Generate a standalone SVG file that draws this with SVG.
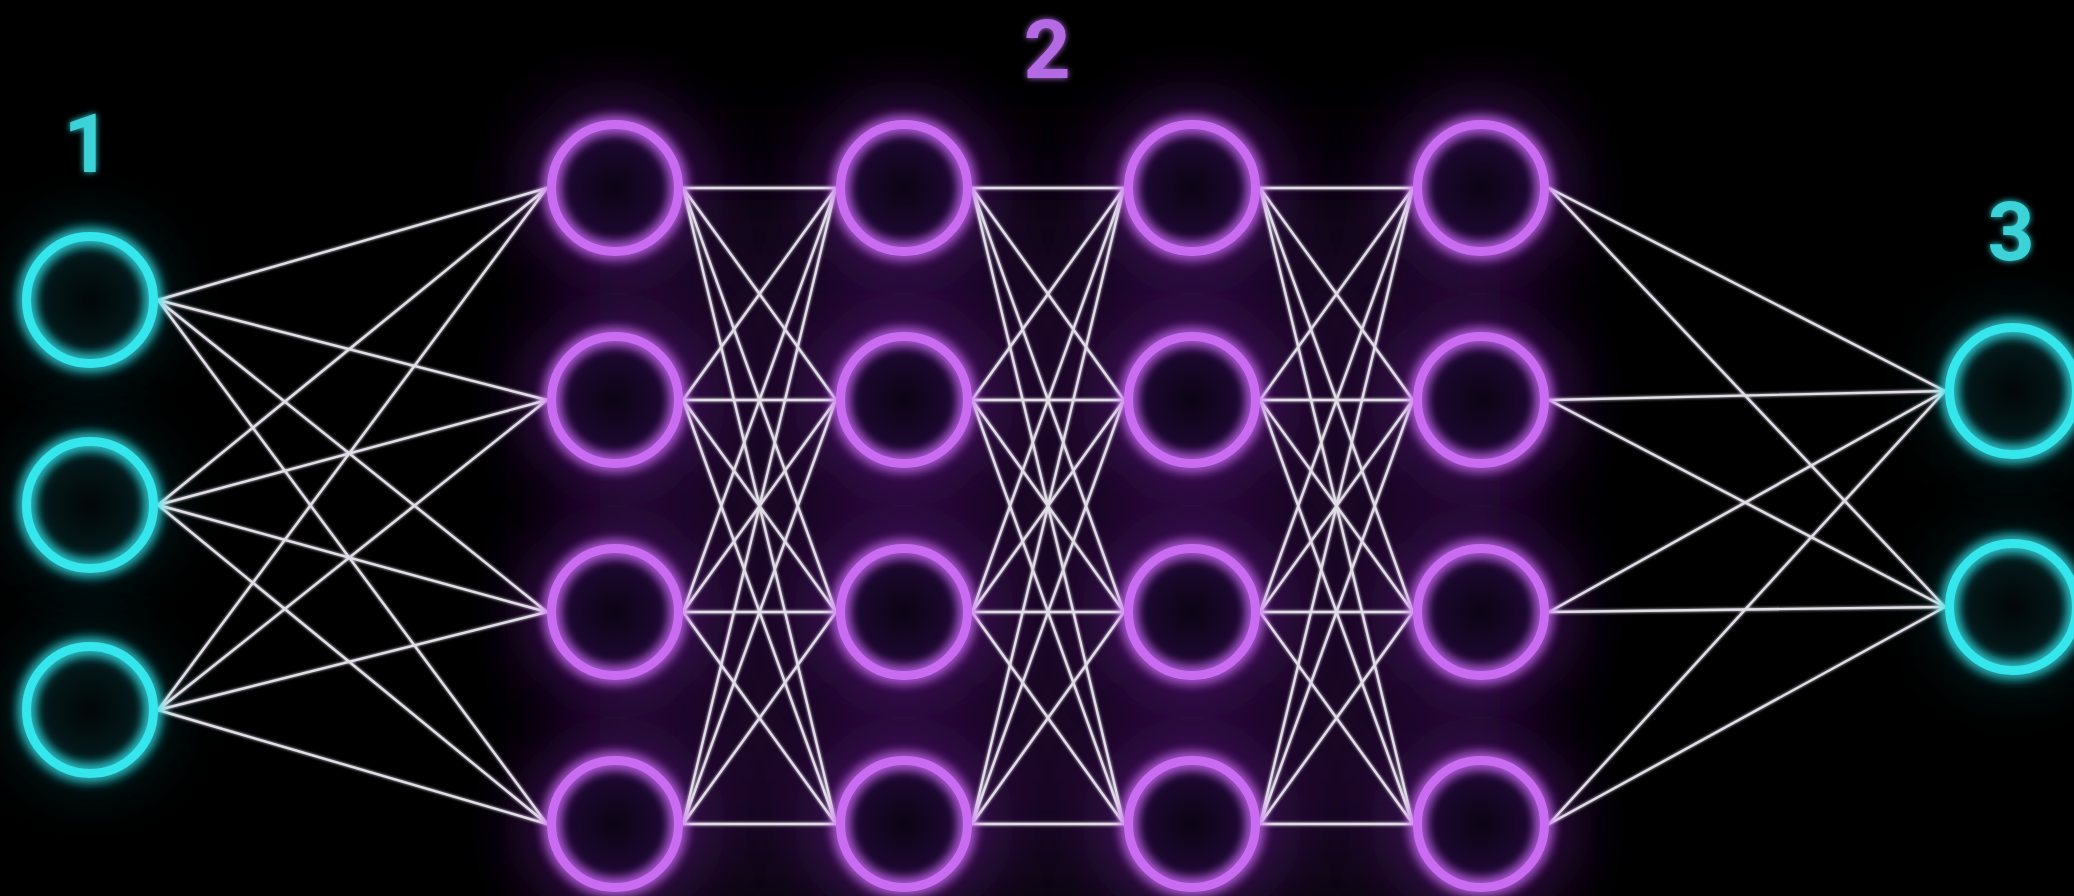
<svg xmlns="http://www.w3.org/2000/svg" width="2074" height="896" viewBox="0 0 2074 896">
<defs>
<style>
.ln{stroke:#e2dee8;stroke-width:2.4;stroke-linecap:round;fill:none}
.ringC{fill:none;stroke:#34e6ec;stroke-width:9;filter:url(#glowC)}
.ringP{fill:none;stroke:#c96cf2;stroke-width:9;filter:url(#glowP)}
.inC{fill:url(#inC)}
.inP{fill:url(#inP)}
.lbl{font-family:Roboto,"Liberation Sans",sans-serif;font-weight:700;font-size:82px;text-anchor:middle}
.hazeP{fill:#5a1880;opacity:0.6;filter:url(#haze)}
.hazeB{fill:#2a0a3c;opacity:0.6;filter:url(#hazeBig)}
.hazeC{fill:#0c4a50;opacity:0.5;filter:url(#haze)}
</style>
<filter id="glowC" x="-50%" y="-50%" width="200%" height="200%">
<feGaussianBlur in="SourceGraphic" stdDeviation="7" result="b"/>
<feMerge><feMergeNode in="b"/><feMergeNode in="b"/><feMergeNode in="SourceGraphic"/></feMerge>
</filter>
<filter id="glowP" x="-50%" y="-50%" width="200%" height="200%">
<feGaussianBlur in="SourceGraphic" stdDeviation="7" result="b"/>
<feMerge><feMergeNode in="b"/><feMergeNode in="b"/><feMergeNode in="SourceGraphic"/></feMerge>
</filter>
<filter id="glowT" x="-50%" y="-50%" width="200%" height="200%">
<feGaussianBlur in="SourceGraphic" stdDeviation="3" result="b"/>
<feMerge><feMergeNode in="b"/><feMergeNode in="SourceGraphic"/></feMerge>
</filter>
<filter id="glowL" x="-5%" y="-5%" width="110%" height="110%">
<feGaussianBlur in="SourceGraphic" stdDeviation="1.5" result="b"/>
<feMerge><feMergeNode in="b"/><feMergeNode in="SourceGraphic"/></feMerge>
</filter>
<filter id="haze" x="-100%" y="-100%" width="300%" height="300%">
<feGaussianBlur stdDeviation="32"/>
</filter>
<filter id="hazeBig" x="-50%" y="-50%" width="200%" height="200%">
<feGaussianBlur stdDeviation="70"/>
</filter>
<radialGradient id="inC"><stop offset="0" stop-color="#020607"/><stop offset="0.75" stop-color="#04181a"/><stop offset="1" stop-color="#0a3a3e"/></radialGradient>
<radialGradient id="inP"><stop offset="0" stop-color="#0c0414"/><stop offset="0.75" stop-color="#1c0830"/><stop offset="1" stop-color="#3a1258"/></radialGradient>
</defs>
<rect width="2074" height="896" fill="#000"/>
<g id="haze-layer">
<rect class="hazeB" x="600" y="200" width="900" height="696"/>
<circle class="hazeP" cx="615" cy="188" r="90"/><circle class="hazeP" cx="615" cy="400" r="90"/><circle class="hazeP" cx="615" cy="612" r="90"/><circle class="hazeP" cx="615" cy="824" r="90"/>
<circle class="hazeP" cx="904" cy="188" r="90"/><circle class="hazeP" cx="904" cy="400" r="90"/><circle class="hazeP" cx="904" cy="612" r="90"/><circle class="hazeP" cx="904" cy="824" r="90"/>
<circle class="hazeP" cx="1192" cy="188" r="90"/><circle class="hazeP" cx="1192" cy="400" r="90"/><circle class="hazeP" cx="1192" cy="612" r="90"/><circle class="hazeP" cx="1192" cy="824" r="90"/>
<circle class="hazeP" cx="1481" cy="188" r="90"/><circle class="hazeP" cx="1481" cy="400" r="90"/><circle class="hazeP" cx="1481" cy="612" r="90"/><circle class="hazeP" cx="1481" cy="824" r="90"/>
<circle class="hazeC" cx="90" cy="300" r="75"/>
<circle class="hazeC" cx="90" cy="505" r="75"/>
<circle class="hazeC" cx="90" cy="710" r="75"/>
<circle class="hazeC" cx="2013" cy="391" r="75"/>
<circle class="hazeC" cx="2013" cy="607" r="75"/>
</g>
<g id="connectors" class="ln" filter="url(#glowL)">
<line x1="158" y1="300" x2="547" y2="188"/><line x1="158" y1="300" x2="547" y2="400"/><line x1="158" y1="300" x2="547" y2="612"/><line x1="158" y1="300" x2="547" y2="824"/>
<line x1="158" y1="505" x2="547" y2="188"/><line x1="158" y1="505" x2="547" y2="400"/><line x1="158" y1="505" x2="547" y2="612"/><line x1="158" y1="505" x2="547" y2="824"/>
<line x1="158" y1="710" x2="547" y2="188"/><line x1="158" y1="710" x2="547" y2="400"/><line x1="158" y1="710" x2="547" y2="612"/><line x1="158" y1="710" x2="547" y2="824"/>
<line x1="683" y1="188" x2="836" y2="188"/><line x1="683" y1="188" x2="836" y2="400"/><line x1="683" y1="188" x2="836" y2="612"/><line x1="683" y1="188" x2="836" y2="824"/>
<line x1="683" y1="400" x2="836" y2="188"/><line x1="683" y1="400" x2="836" y2="400"/><line x1="683" y1="400" x2="836" y2="612"/><line x1="683" y1="400" x2="836" y2="824"/>
<line x1="683" y1="612" x2="836" y2="188"/><line x1="683" y1="612" x2="836" y2="400"/><line x1="683" y1="612" x2="836" y2="612"/><line x1="683" y1="612" x2="836" y2="824"/>
<line x1="683" y1="824" x2="836" y2="188"/><line x1="683" y1="824" x2="836" y2="400"/><line x1="683" y1="824" x2="836" y2="612"/><line x1="683" y1="824" x2="836" y2="824"/>
<line x1="972" y1="188" x2="1124" y2="188"/><line x1="972" y1="188" x2="1124" y2="400"/><line x1="972" y1="188" x2="1124" y2="612"/><line x1="972" y1="188" x2="1124" y2="824"/>
<line x1="972" y1="400" x2="1124" y2="188"/><line x1="972" y1="400" x2="1124" y2="400"/><line x1="972" y1="400" x2="1124" y2="612"/><line x1="972" y1="400" x2="1124" y2="824"/>
<line x1="972" y1="612" x2="1124" y2="188"/><line x1="972" y1="612" x2="1124" y2="400"/><line x1="972" y1="612" x2="1124" y2="612"/><line x1="972" y1="612" x2="1124" y2="824"/>
<line x1="972" y1="824" x2="1124" y2="188"/><line x1="972" y1="824" x2="1124" y2="400"/><line x1="972" y1="824" x2="1124" y2="612"/><line x1="972" y1="824" x2="1124" y2="824"/>
<line x1="1260" y1="188" x2="1413" y2="188"/><line x1="1260" y1="188" x2="1413" y2="400"/><line x1="1260" y1="188" x2="1413" y2="612"/><line x1="1260" y1="188" x2="1413" y2="824"/>
<line x1="1260" y1="400" x2="1413" y2="188"/><line x1="1260" y1="400" x2="1413" y2="400"/><line x1="1260" y1="400" x2="1413" y2="612"/><line x1="1260" y1="400" x2="1413" y2="824"/>
<line x1="1260" y1="612" x2="1413" y2="188"/><line x1="1260" y1="612" x2="1413" y2="400"/><line x1="1260" y1="612" x2="1413" y2="612"/><line x1="1260" y1="612" x2="1413" y2="824"/>
<line x1="1260" y1="824" x2="1413" y2="188"/><line x1="1260" y1="824" x2="1413" y2="400"/><line x1="1260" y1="824" x2="1413" y2="612"/><line x1="1260" y1="824" x2="1413" y2="824"/>
<line x1="1549" y1="188" x2="1945" y2="391"/><line x1="1549" y1="188" x2="1945" y2="607"/>
<line x1="1549" y1="400" x2="1945" y2="391"/><line x1="1549" y1="400" x2="1945" y2="607"/>
<line x1="1549" y1="612" x2="1945" y2="391"/><line x1="1549" y1="612" x2="1945" y2="607"/>
<line x1="1549" y1="824" x2="1945" y2="391"/><line x1="1549" y1="824" x2="1945" y2="607"/>
</g>
<g id="in1"><circle class="inC" cx="90" cy="300" r="64"/><circle class="ringC" cx="90" cy="300" r="63.5"/></g>
<g id="in2"><circle class="inC" cx="90" cy="505" r="64"/><circle class="ringC" cx="90" cy="505" r="63.5"/></g>
<g id="in3"><circle class="inC" cx="90" cy="710" r="64"/><circle class="ringC" cx="90" cy="710" r="63.5"/></g>
<g id="h1-1"><circle class="inP" cx="615" cy="188" r="64"/><circle class="ringP" cx="615" cy="188" r="63.5"/></g>
<g id="h1-2"><circle class="inP" cx="615" cy="400" r="64"/><circle class="ringP" cx="615" cy="400" r="63.5"/></g>
<g id="h1-3"><circle class="inP" cx="615" cy="612" r="64"/><circle class="ringP" cx="615" cy="612" r="63.5"/></g>
<g id="h1-4"><circle class="inP" cx="615" cy="824" r="64"/><circle class="ringP" cx="615" cy="824" r="63.5"/></g>
<g id="h2-1"><circle class="inP" cx="904" cy="188" r="64"/><circle class="ringP" cx="904" cy="188" r="63.5"/></g>
<g id="h2-2"><circle class="inP" cx="904" cy="400" r="64"/><circle class="ringP" cx="904" cy="400" r="63.5"/></g>
<g id="h2-3"><circle class="inP" cx="904" cy="612" r="64"/><circle class="ringP" cx="904" cy="612" r="63.5"/></g>
<g id="h2-4"><circle class="inP" cx="904" cy="824" r="64"/><circle class="ringP" cx="904" cy="824" r="63.5"/></g>
<g id="h3-1"><circle class="inP" cx="1192" cy="188" r="64"/><circle class="ringP" cx="1192" cy="188" r="63.5"/></g>
<g id="h3-2"><circle class="inP" cx="1192" cy="400" r="64"/><circle class="ringP" cx="1192" cy="400" r="63.5"/></g>
<g id="h3-3"><circle class="inP" cx="1192" cy="612" r="64"/><circle class="ringP" cx="1192" cy="612" r="63.5"/></g>
<g id="h3-4"><circle class="inP" cx="1192" cy="824" r="64"/><circle class="ringP" cx="1192" cy="824" r="63.5"/></g>
<g id="h4-1"><circle class="inP" cx="1481" cy="188" r="64"/><circle class="ringP" cx="1481" cy="188" r="63.5"/></g>
<g id="h4-2"><circle class="inP" cx="1481" cy="400" r="64"/><circle class="ringP" cx="1481" cy="400" r="63.5"/></g>
<g id="h4-3"><circle class="inP" cx="1481" cy="612" r="64"/><circle class="ringP" cx="1481" cy="612" r="63.5"/></g>
<g id="h4-4"><circle class="inP" cx="1481" cy="824" r="64"/><circle class="ringP" cx="1481" cy="824" r="63.5"/></g>
<g id="out1"><circle class="inC" cx="2013" cy="391" r="64"/><circle class="ringC" cx="2013" cy="391" r="63.5"/></g>
<g id="out2"><circle class="inC" cx="2013" cy="607" r="64"/><circle class="ringC" cx="2013" cy="607" r="63.5"/></g>
<g id="labels" filter="url(#glowT)">
<text class="lbl" x="87" y="172" fill="#3ad2d8">1</text>
<text class="lbl" x="1047" y="78" fill="#b46ae2">2</text>
<text class="lbl" x="2011" y="260" fill="#3ad2d8">3</text>
</g>
</svg>
